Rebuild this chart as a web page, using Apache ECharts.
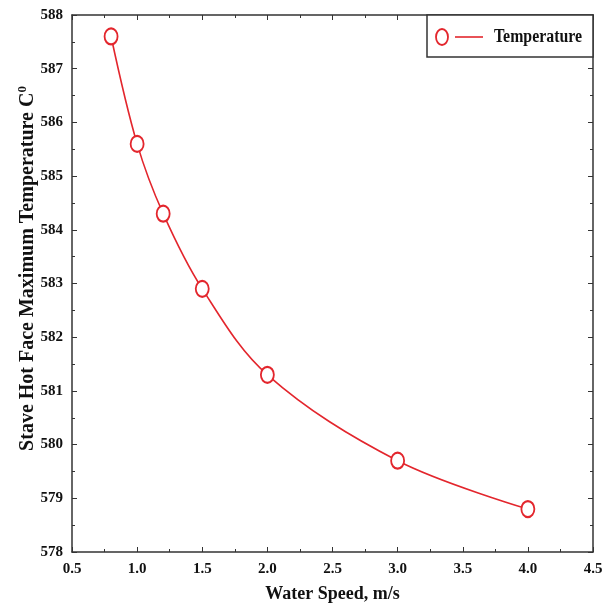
<!DOCTYPE html>
<html><head><meta charset="utf-8">
<script src="https://cdn.jsdelivr.net/npm/echarts@6/dist/echarts.min.js"></script>
<style>html,body{margin:0;padding:0;background:#fff}#c{width:611px;height:611px}</style>
</head><body><div id="c"></div>
<script>
const speeds = [0.8, 1.0, 1.2, 1.5, 2.0, 3.0, 4.0];
const temps = [587.6, 585.6, 584.3, 582.9, 581.3, 579.7, 578.8];
const seriesName = 'Temperature';
const xTitle = 'Water Speed, m/s';
const yTitle = 'Stave Hot Face Maximum Temperature C';

const font = 'Liberation Serif';
const red = '#e3262d';
const axisLine = {lineStyle:{color:'#333', width:1.5}};
const chart = echarts.init(document.getElementById('c'));
const commonX = {type:'value', min:0.5, max:4.5, interval:0.5, splitLine:{show:false},
  axisLine: axisLine, axisTick:{inside:true, length:5, lineStyle:{color:'#333'}},
  minorTick:{show:true, splitNumber:2, length:3, lineStyle:{color:'#333'}}};
const commonY = {type:'value', min:578, max:588, interval:1, splitLine:{show:false},
  axisLine: axisLine, axisTick:{inside:true, length:5, lineStyle:{color:'#333'}},
  minorTick:{show:true, splitNumber:2, length:3, lineStyle:{color:'#333'}}};
chart.setOption({
  animation:false,
  grid:{left:72, right:18, top:15, bottom:59},
  graphic:[
    {type:'rect', shape:{x:427, y:15, width:166, height:42}, z:10,
      style:{fill:'#fff', stroke:'#333', lineWidth:1.5}},
    {type:'ellipse', shape:{cx:442, cy:37, rx:6, ry:8}, z:11,
      style:{fill:'#fff', stroke:red, lineWidth:1.8}},
    {type:'line', shape:{x1:455, y1:37, x2:483, y2:37}, z:11,
      style:{stroke:red, lineWidth:1.6}},
    {type:'text', x:494, y:37, z:11, scaleX:0.88,
      style:{text:seriesName, fontFamily:font, fontWeight:'bold', fontSize:18, fill:'#111',
        verticalAlign:'middle', align:'left'}}
  ],
  xAxis:[
    Object.assign({}, commonX, {position:'bottom', name:xTitle, nameLocation:'middle', nameGap:33,
      nameTextStyle:{fontFamily:font, fontWeight:'bold', fontSize:18, color:'#111'},
      axisLabel:{fontFamily:font, fontWeight:'bold', fontSize:15, color:'#111', margin:10,
        formatter:v=>v.toFixed(1)}}),
    Object.assign({}, commonX, {position:'top', axisLabel:{show:false}})
  ],
  yAxis:[
    Object.assign({}, commonY, {position:'left', name:'{t|'+yTitle+'}{s|0}', nameLocation:'middle', nameGap:33,
      nameMoveOverlap:false,
      nameTextStyle:{rich:{
        t:{fontFamily:font, fontWeight:'bold', fontSize:20, color:'#111', padding:[0,0,0,30]},
        s:{fontFamily:font, fontWeight:'bold', fontSize:13, color:'#111', verticalAlign:'top', padding:[0,0,10,0]}}},
      axisLabel:{fontFamily:font, fontWeight:'bold', fontSize:15, color:'#111', margin:9}}),
    Object.assign({}, commonY, {position:'right', axisLabel:{show:false}})
  ],
  series:[{name:seriesName, type:'line', data:speeds.map((s,i)=>[s,temps[i]]), smooth:0.35,
    symbol:'emptyCircle', symbolSize:[13,16], itemStyle:{color:red, borderWidth:1.8},
    lineStyle:{color:red, width:1.6}}]
});
</script></body></html>
